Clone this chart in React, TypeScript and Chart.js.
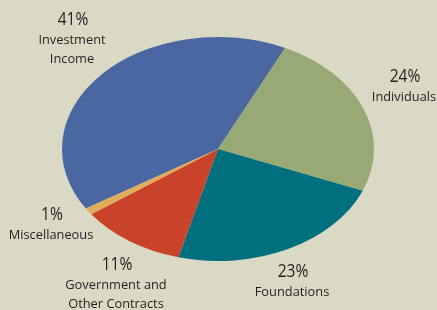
import React, { useEffect, useRef } from "react";
import { Chart, registerables } from "chart.js";

Chart.register(...registerables);

const categories = ["Investment Income", "Individuals", "Foundations", "Government and Other Contracts", "Miscellaneous"];
const values = [41, 24, 23, 11, 1];
const colors = ["#4a67a1", "#99a975", "#00707f", "#c8432a", "#e0ad5a"];
const labelLines = [["Investment", "Income"], ["Individuals"], ["Foundations"], ["Government and", "Other Contracts"], ["Miscellaneous"]];
// label anchor (center of percentage text)
const labelPos = [[73, 18], [405, 75], [293, 270], [117, 263], [52, 213]];

const RX = 156;
const RY = 112;
const BG = "#dad9c5";

const ellipsePlugin = {
  id: "ellipse",
  beforeDatasetsDraw(chart: any) {
    const arc = chart.getDatasetMeta(0).data[0];
    const ctx = chart.ctx;
    ctx.save();
    ctx.translate(arc.x, arc.y);
    ctx.scale(1, RY / RX);
    ctx.translate(-arc.x, -arc.y);
  },
  afterDatasetsDraw(chart: any) {
    chart.ctx.restore();
  },
};

const labelPlugin = {
  id: "labels",
  afterDraw(chart: any) {
    const ctx = chart.ctx;
    ctx.save();
    ctx.fillStyle = "#231f20";
    ctx.textAlign = "center";
    ctx.textBaseline = "alphabetic";
    values.forEach((v, i) => {
      const [x, y] = labelPos[i];
      ctx.save();
      ctx.translate(x, y + 7);
      ctx.scale(0.82, 1);
      ctx.font = "500 19px 'Open Sans'";
      ctx.fillText(v + "%", 0, 0);
      ctx.restore();
      ctx.save();
      ctx.font = "500 13.5px 'Open Sans'";
      labelLines[i].forEach((line, j) => {
        ctx.save();
        ctx.translate(x - 1, y + 26 + j * 18.5);
        ctx.scale(0.95, 1);
        ctx.fillText(line, 0, 0);
        ctx.restore();
      });
      ctx.restore();
    });
    ctx.restore();
  },
};

export default function App() {
  const ref = useRef<HTMLCanvasElement>(null);
  useEffect(() => {
    const chart = new Chart(ref.current!, {
      type: "pie",
      data: {
        labels: categories,
        datasets: [
          {
            data: values,
            backgroundColor: colors,
            borderWidth: 0,
            radius: RX,
          } as any,
        ],
      },
      options: {
        animation: false,
        responsive: false,
        rotation: -122.1,
        layout: { padding: { left: 0, right: 1, top: 0, bottom: 12 } },
        plugins: { legend: { display: false }, tooltip: { enabled: false } },
      },
      plugins: [ellipsePlugin, labelPlugin],
    });
    return () => chart.destroy();
  }, []);
  return (
    <div style={{ position: "fixed", left: 0, top: 0, width: 437, height: 310, background: BG }}>
      <canvas ref={ref} width={437} height={310} style={{ display: "block" }} />
    </div>
  );
}
